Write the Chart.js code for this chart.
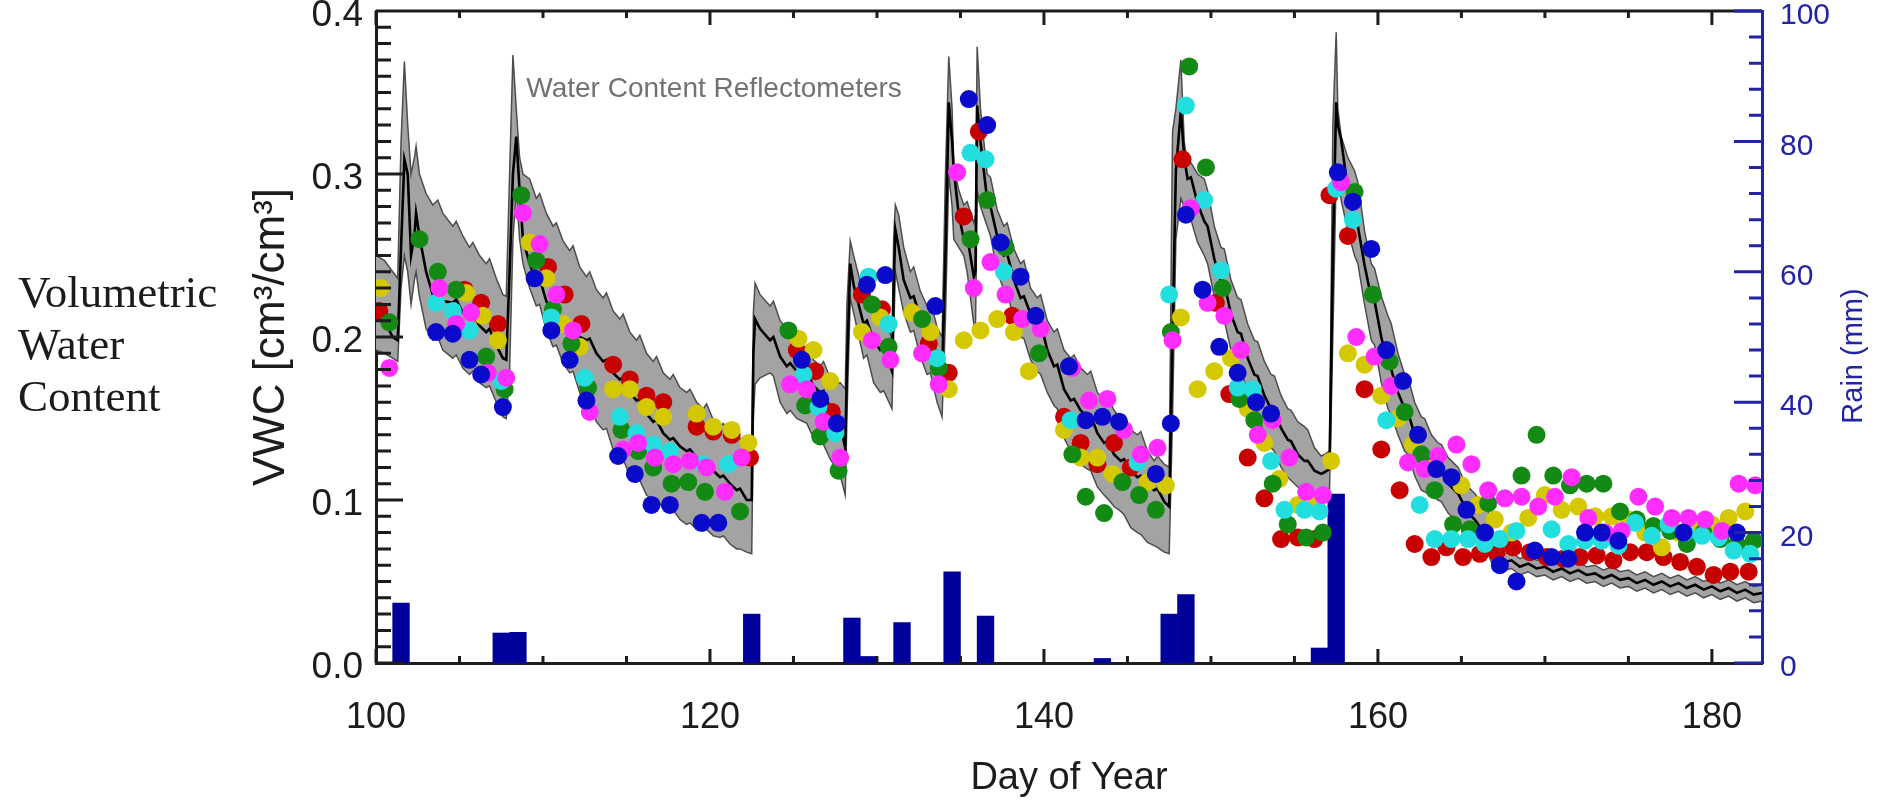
<!DOCTYPE html>
<html>
<head>
<meta charset="utf-8">
<script src="https://cdn.jsdelivr.net/npm/chart.js@4.4.1/dist/chart.umd.min.js"></script>
<style>
  html, body { margin: 0; padding: 0; background: #fff; }
  #wrap { position: relative; width: 1878px; height: 801px; }
  #wrap canvas { position: absolute; left: 0; top: 0; }
  #side {
    position: absolute; left: 18px; top: 266px;
    font-family: 'Liberation Serif', 'Times New Roman', serif;
    font-size: 45px; line-height: 52px; color: #1b1b1b;
  }
</style>
</head>
<body>
<div id="wrap">
  <canvas id="vwcChart" width="1878" height="801"></canvas>
  <div id="side">Volumetric<br>Water<br>Content</div>
</div>
<script>
// Envelope (min / mean / max) of the reflectometers
const bandDays = [
  100.0, 100.5, 101.0, 101.3, 101.5, 101.7, 101.9, 102.1, 102.3, 102.4,
  102.6, 103.0, 103.4, 103.7, 104.0, 104.6, 104.8, 105.2, 105.6, 105.8,
  106.2, 106.6, 106.8, 107.2, 107.6, 107.8, 108.0, 108.2, 108.4, 108.6,
  108.8, 109.2, 109.6, 109.8, 110.2, 110.6, 110.8, 111.2, 111.6, 111.8,
  112.2, 112.6, 112.8, 113.2, 113.6, 113.8, 114.2, 114.6, 114.8, 115.2,
  115.6, 115.8, 116.2, 116.6, 116.8, 117.2, 117.6, 117.8, 118.2, 118.6,
  118.8, 119.2, 119.6, 119.8, 120.2, 120.6, 120.8, 121.2, 121.6, 121.8,
  122.2, 122.5, 122.6, 122.7, 123.0, 123.6, 123.8, 124.2, 124.6, 124.8,
  125.2, 125.6, 125.8, 126.2, 126.6, 126.8, 127.2, 127.6, 127.8, 128.1,
  128.2, 128.4, 128.6, 129.2, 129.4, 129.8, 130.2, 130.4, 130.9, 131.0,
  131.1, 131.3, 131.6, 132.0, 132.2, 132.6, 133.0, 133.2, 133.6, 133.9,
  134.1, 134.3, 134.5, 134.6, 134.9, 135.2, 135.4, 135.8, 135.9, 136.0,
  136.2, 136.6, 136.8, 137.2, 137.6, 137.8, 138.2, 138.6, 138.8, 139.2,
  139.6, 139.8, 140.2, 140.6, 140.8, 141.2, 141.6, 141.8, 142.2, 142.6,
  142.8, 143.2, 143.6, 143.8, 144.2, 144.6, 144.8, 145.2, 145.6, 145.8,
  146.2, 146.6, 146.8, 147.2, 147.5, 147.7, 147.9, 148.2, 148.4, 148.6,
  148.8, 149.2, 149.6, 149.8, 150.2, 150.6, 150.8, 151.2, 151.6, 151.8,
  152.2, 152.6, 152.8, 153.2, 153.6, 153.8, 154.2, 154.6, 154.8, 155.2,
  155.6, 155.8, 156.2, 156.6, 156.8, 157.1, 157.3, 157.5, 157.6, 157.8,
  158.2, 158.6, 158.8, 159.2, 159.6, 159.8, 160.2, 160.6, 160.8, 161.2,
  161.6, 161.8, 162.2, 162.6, 162.8, 163.2, 163.6, 163.8, 164.2, 164.6,
  164.8, 165.2, 165.6, 165.8, 166.2, 166.6, 166.8, 167.2, 167.6, 168.0,
  168.5, 169.0, 169.5, 170.0, 170.5, 171.0, 171.5, 172.0, 172.5, 173.0,
  173.5, 174.0, 174.5, 175.0, 175.5, 176.0, 176.5, 177.0, 177.5, 178.0,
  178.5, 179.0, 179.5, 180.0, 180.5, 181.0, 181.5, 182.0, 182.5, 183.0
];
const vwcMean = [
  0.213, 0.210, 0.200, 0.198, 0.255, 0.309, 0.300, 0.250, 0.262, 0.276,
  0.262, 0.240, 0.226, 0.228, 0.222, 0.221, 0.223, 0.215, 0.212, 0.214,
  0.207, 0.203, 0.205, 0.195, 0.187, 0.186, 0.240, 0.300, 0.323, 0.290,
  0.260, 0.245, 0.234, 0.236, 0.222, 0.213, 0.215, 0.207, 0.203, 0.205,
  0.200, 0.198, 0.199, 0.190, 0.185, 0.186, 0.178, 0.174, 0.175, 0.166,
  0.161, 0.162, 0.153, 0.148, 0.149, 0.141, 0.137, 0.138, 0.133, 0.130,
  0.131, 0.126, 0.123, 0.124, 0.118, 0.114, 0.115, 0.110, 0.106, 0.107,
  0.100, 0.100, 0.190, 0.211, 0.205, 0.198, 0.200, 0.188, 0.182, 0.184,
  0.179, 0.177, 0.178, 0.170, 0.166, 0.167, 0.156, 0.148, 0.146, 0.132,
  0.180, 0.245, 0.232, 0.208, 0.210, 0.198, 0.192, 0.193, 0.179, 0.230,
  0.266, 0.255, 0.235, 0.224, 0.225, 0.212, 0.203, 0.204, 0.188, 0.177,
  0.250, 0.344, 0.320, 0.302, 0.275, 0.260, 0.262, 0.237, 0.240, 0.342,
  0.320, 0.284, 0.280, 0.262, 0.250, 0.251, 0.235, 0.224, 0.225, 0.214,
  0.208, 0.209, 0.192, 0.182, 0.183, 0.168, 0.161, 0.162, 0.155, 0.151,
  0.152, 0.141, 0.135, 0.136, 0.128, 0.124, 0.125, 0.118, 0.114, 0.115,
  0.109, 0.106, 0.107, 0.099, 0.096, 0.200, 0.302, 0.339, 0.310, 0.297,
  0.298, 0.282, 0.271, 0.268, 0.248, 0.234, 0.233, 0.214, 0.203, 0.202,
  0.187, 0.177, 0.176, 0.164, 0.156, 0.155, 0.144, 0.137, 0.136, 0.128,
  0.124, 0.124, 0.118, 0.116, 0.117, 0.119, 0.250, 0.344, 0.330, 0.321,
  0.290, 0.271, 0.268, 0.244, 0.224, 0.222, 0.200, 0.182, 0.180, 0.166,
  0.156, 0.154, 0.140, 0.130, 0.129, 0.123, 0.119, 0.118, 0.110, 0.106,
  0.104, 0.096, 0.090, 0.088, 0.082, 0.077, 0.072, 0.064, 0.062, 0.063,
  0.059, 0.061, 0.058, 0.059, 0.056, 0.058, 0.055, 0.057, 0.054, 0.055,
  0.052, 0.054, 0.051, 0.052, 0.049, 0.051, 0.048, 0.050, 0.047, 0.049,
  0.046, 0.048, 0.045, 0.047, 0.044, 0.046, 0.043, 0.045, 0.042, 0.043
];
const vwcHigh = [
  0.250, 0.247, 0.240, 0.236, 0.320, 0.369, 0.330, 0.300, 0.310, 0.317,
  0.300, 0.288, 0.281, 0.284, 0.276, 0.268, 0.271, 0.262, 0.255, 0.258,
  0.250, 0.245, 0.248, 0.236, 0.226, 0.225, 0.300, 0.373, 0.340, 0.310,
  0.300, 0.297, 0.285, 0.288, 0.276, 0.268, 0.270, 0.259, 0.253, 0.256,
  0.243, 0.237, 0.240, 0.229, 0.224, 0.227, 0.216, 0.211, 0.214, 0.203,
  0.198, 0.201, 0.190, 0.185, 0.188, 0.178, 0.174, 0.177, 0.169, 0.166,
  0.168, 0.160, 0.156, 0.159, 0.149, 0.145, 0.147, 0.140, 0.136, 0.138,
  0.134, 0.133, 0.215, 0.233, 0.226, 0.219, 0.222, 0.210, 0.205, 0.208,
  0.196, 0.192, 0.195, 0.186, 0.182, 0.185, 0.175, 0.171, 0.172, 0.168,
  0.220, 0.259, 0.250, 0.226, 0.229, 0.218, 0.213, 0.216, 0.198, 0.260,
  0.281, 0.275, 0.255, 0.240, 0.243, 0.228, 0.219, 0.222, 0.206, 0.200,
  0.300, 0.372, 0.340, 0.305, 0.290, 0.281, 0.283, 0.270, 0.275, 0.378,
  0.340, 0.300, 0.298, 0.278, 0.268, 0.270, 0.254, 0.245, 0.247, 0.230,
  0.224, 0.226, 0.210, 0.203, 0.205, 0.192, 0.187, 0.189, 0.181, 0.177,
  0.179, 0.166, 0.161, 0.163, 0.155, 0.150, 0.152, 0.143, 0.140, 0.142,
  0.130, 0.124, 0.127, 0.122, 0.120, 0.326, 0.340, 0.370, 0.320, 0.305,
  0.307, 0.300, 0.297, 0.290, 0.268, 0.255, 0.254, 0.235, 0.224, 0.223,
  0.208, 0.198, 0.197, 0.185, 0.177, 0.176, 0.164, 0.156, 0.155, 0.148,
  0.145, 0.143, 0.132, 0.127, 0.128, 0.130, 0.330, 0.387, 0.340, 0.323,
  0.310, 0.302, 0.295, 0.265, 0.245, 0.242, 0.225, 0.213, 0.208, 0.190,
  0.177, 0.175, 0.160, 0.151, 0.150, 0.140, 0.135, 0.134, 0.126, 0.122,
  0.120, 0.111, 0.106, 0.104, 0.098, 0.093, 0.085, 0.069, 0.067, 0.068,
  0.064, 0.066, 0.063, 0.064, 0.061, 0.063, 0.060, 0.062, 0.059, 0.060,
  0.057, 0.059, 0.056, 0.057, 0.054, 0.056, 0.053, 0.055, 0.052, 0.054,
  0.051, 0.053, 0.050, 0.052, 0.049, 0.051, 0.048, 0.050, 0.047, 0.048
];
const vwcLow = [
  0.192, 0.190, 0.187, 0.185, 0.230, 0.250, 0.240, 0.220, 0.235, 0.240,
  0.225, 0.205, 0.198, 0.200, 0.192, 0.187, 0.189, 0.181, 0.177, 0.179,
  0.172, 0.169, 0.170, 0.160, 0.151, 0.150, 0.180, 0.260, 0.290, 0.260,
  0.245, 0.230, 0.219, 0.220, 0.204, 0.194, 0.195, 0.184, 0.178, 0.179,
  0.166, 0.158, 0.159, 0.148, 0.143, 0.144, 0.131, 0.124, 0.125, 0.115,
  0.111, 0.112, 0.103, 0.100, 0.101, 0.095, 0.093, 0.094, 0.088, 0.085,
  0.086, 0.082, 0.081, 0.082, 0.078, 0.077, 0.078, 0.073, 0.070, 0.070,
  0.068, 0.067, 0.150, 0.171, 0.175, 0.178, 0.176, 0.160, 0.153, 0.155,
  0.150, 0.148, 0.147, 0.138, 0.135, 0.134, 0.125, 0.119, 0.115, 0.103,
  0.150, 0.224, 0.215, 0.187, 0.189, 0.172, 0.166, 0.167, 0.156, 0.200,
  0.240, 0.230, 0.215, 0.203, 0.204, 0.188, 0.177, 0.178, 0.160, 0.151,
  0.210, 0.300, 0.280, 0.260, 0.255, 0.250, 0.240, 0.208, 0.205, 0.290,
  0.280, 0.268, 0.262, 0.240, 0.229, 0.228, 0.210, 0.200, 0.199, 0.186,
  0.179, 0.177, 0.166, 0.158, 0.156, 0.138, 0.130, 0.128, 0.122, 0.119,
  0.118, 0.108, 0.103, 0.101, 0.096, 0.093, 0.091, 0.083, 0.080, 0.079,
  0.074, 0.072, 0.071, 0.068, 0.067, 0.150, 0.260, 0.285, 0.280, 0.274,
  0.272, 0.258, 0.250, 0.245, 0.225, 0.213, 0.210, 0.192, 0.182, 0.180,
  0.165, 0.156, 0.154, 0.140, 0.132, 0.130, 0.120, 0.114, 0.112, 0.108,
  0.106, 0.105, 0.104, 0.103, 0.104, 0.105, 0.200, 0.300, 0.295, 0.284,
  0.265, 0.250, 0.245, 0.220, 0.198, 0.195, 0.172, 0.156, 0.152, 0.140,
  0.130, 0.128, 0.115, 0.106, 0.105, 0.103, 0.100, 0.099, 0.092, 0.088,
  0.086, 0.080, 0.077, 0.075, 0.070, 0.067, 0.062, 0.059, 0.057, 0.058,
  0.054, 0.056, 0.053, 0.054, 0.051, 0.053, 0.050, 0.052, 0.049, 0.050,
  0.047, 0.049, 0.046, 0.047, 0.044, 0.046, 0.043, 0.045, 0.042, 0.044,
  0.041, 0.043, 0.040, 0.042, 0.039, 0.041, 0.038, 0.040, 0.037, 0.038
];

// Daily rain totals (mm)
const rainDays = [101, 107, 108, 122, 128, 129, 131, 134, 136, 143, 147, 148, 156, 157];
const rainMm   = [9.2, 4.6, 4.7, 7.5, 6.9, 1.0, 6.2, 14.0, 7.2, 0.7, 7.5, 10.5, 2.3, 25.9];

// Individual sensors
const redDays = [
  100.2, 105.3, 106.3, 107.3, 110.3, 111.3, 112.3, 114.2, 115.2, 116.2,
  117.2, 119.2, 120.2, 121.3, 122.4, 125.2, 126.3, 127.3, 129.1, 130.3,
  133.1, 134.3, 135.2, 136.1, 138.1, 141.2, 142.2, 143.2, 144.2, 145.2,
  148.3, 150.3, 151.1, 152.2, 153.2, 154.2, 155.2, 156.2, 157.1, 158.2,
  159.2, 160.2, 161.3, 162.2, 163.2, 164.1, 165.1, 166.1, 167.1, 168.1,
  169.1, 170.1, 171.1, 172.1, 173.1, 174.1, 175.1, 176.1, 177.1, 178.1,
  179.1, 180.1, 181.1, 182.2
];
const redVwc = [
  0.216, 0.229, 0.221, 0.208, 0.243, 0.226, 0.208, 0.183, 0.174, 0.164,
  0.160, 0.145, 0.142, 0.140, 0.126, 0.192, 0.179, 0.154, 0.226, 0.217,
  0.196, 0.178, 0.274, 0.326, 0.213, 0.151, 0.135, 0.122, 0.135, 0.120,
  0.309, 0.221, 0.165, 0.126, 0.101, 0.076, 0.077, 0.076, 0.287, 0.262,
  0.168, 0.131, 0.106, 0.073, 0.065, 0.071, 0.065, 0.067, 0.068, 0.071,
  0.068, 0.065, 0.064, 0.065, 0.066, 0.063, 0.068, 0.068, 0.065, 0.062,
  0.059, 0.054, 0.056, 0.056
];
const yellowDays = [
  100.3, 105.4, 106.4, 107.3, 109.2, 110.2, 111.2, 112.2, 114.2, 115.2,
  116.2, 117.2, 119.2, 120.2, 121.3, 122.3, 125.3, 126.2, 127.2, 129.1,
  130.2, 132.1, 133.2, 134.3, 135.2, 136.2, 137.2, 138.2, 139.1, 141.2,
  142.2, 143.2, 144.1, 146.2, 147.3, 148.2, 149.2, 150.2, 151.2, 152.2,
  153.2, 154.1, 155.2, 156.3, 157.2, 158.2, 159.2, 160.2, 161.2, 162.1,
  163.3, 165.0, 166.0, 167.0, 168.0, 169.0, 170.0, 171.0, 172.0, 173.0,
  174.0, 175.0, 176.0, 177.0, 178.0, 179.0, 180.0, 181.0, 182.0
];
const yellowVwc = [
  0.230, 0.227, 0.213, 0.198, 0.258, 0.236, 0.208, 0.194, 0.168, 0.168,
  0.157, 0.151, 0.153, 0.145, 0.143, 0.135, 0.199, 0.192, 0.173, 0.203,
  0.212, 0.215, 0.203, 0.168, 0.198, 0.204, 0.211, 0.203, 0.179, 0.143,
  0.126, 0.126, 0.116, 0.111, 0.109, 0.212, 0.168, 0.179, 0.187, 0.156,
  0.135, 0.113, 0.097, 0.098, 0.124, 0.190, 0.183, 0.164, 0.150, 0.134,
  0.120, 0.109, 0.097, 0.088, 0.080, 0.089, 0.103, 0.094, 0.096, 0.090,
  0.090, 0.088, 0.080, 0.071, 0.080, 0.081, 0.085, 0.089, 0.093
];
const greenDays = [
  100.8, 102.6, 103.7, 104.8, 106.6, 107.7, 108.7, 109.6, 110.6, 111.7,
  112.7, 114.7, 115.7, 116.6, 117.7, 118.7, 119.7, 121.8, 124.7, 125.7,
  126.6, 127.7, 129.7, 130.7, 132.7, 133.7, 135.6, 136.6, 137.7, 139.7,
  141.7, 142.5, 143.6, 144.7, 145.7, 146.7, 147.6, 148.7, 149.7, 150.7,
  151.7, 152.6, 153.7, 154.6, 155.7, 156.7, 158.6, 159.7, 160.7, 161.6,
  162.6, 163.4, 164.5, 165.5, 166.6, 168.6, 169.5, 170.5, 171.5, 172.5,
  173.5, 174.5, 175.5, 176.5, 177.5, 178.5, 179.5, 180.5, 181.5, 182.5
];
const greenVwc = [
  0.209, 0.260, 0.240, 0.229, 0.188, 0.168, 0.287, 0.247, 0.217, 0.196,
  0.169, 0.143, 0.130, 0.120, 0.110, 0.111, 0.105, 0.093, 0.204, 0.158,
  0.139, 0.118, 0.220, 0.194, 0.211, 0.181, 0.260, 0.284, 0.255, 0.190,
  0.128, 0.102, 0.092, 0.111, 0.103, 0.094, 0.203, 0.366, 0.304, 0.230,
  0.162, 0.149, 0.110, 0.085, 0.077, 0.080, 0.289, 0.226, 0.185, 0.154,
  0.128, 0.106, 0.085, 0.082, 0.098, 0.115, 0.140, 0.115, 0.109, 0.110,
  0.110, 0.093, 0.088, 0.084, 0.081, 0.073, 0.080, 0.076, 0.073, 0.075
];
const cyanDays = [
  103.6, 104.6, 105.6, 107.5, 110.5, 112.5, 114.6, 115.6, 116.6, 117.6,
  119.6, 121.1, 125.6, 126.5, 127.5, 129.5, 130.7, 133.6, 135.6, 136.5,
  137.6, 141.6, 145.6, 147.5, 148.5, 149.6, 150.6, 151.6, 152.5, 153.6,
  154.4, 155.6, 156.5, 157.5, 158.5, 160.5, 162.5, 163.4, 164.4, 165.4,
  166.4, 167.3, 168.3, 170.4, 171.4, 172.4, 173.4, 174.4, 175.4, 176.4,
  177.4, 178.4, 179.4, 180.4, 181.3, 182.3
];
const cyanVwc = [
  0.221, 0.216, 0.204, 0.173, 0.212, 0.175, 0.151, 0.141, 0.134, 0.130,
  0.122, 0.122, 0.177, 0.157, 0.141, 0.237, 0.208, 0.187, 0.313, 0.309,
  0.240, 0.149, 0.123, 0.226, 0.342, 0.284, 0.241, 0.169, 0.168, 0.124,
  0.094, 0.094, 0.093, 0.291, 0.272, 0.149, 0.097, 0.076, 0.076, 0.076,
  0.073, 0.076, 0.081, 0.082, 0.073, 0.075, 0.075, 0.072, 0.086, 0.078,
  0.085, 0.080, 0.078, 0.077, 0.069, 0.067
];
const magentaDays = [
  100.8, 103.8, 104.8, 105.7, 106.7, 107.8, 108.8, 109.8, 110.8, 111.8,
  112.8, 114.8, 115.7, 116.7, 117.8, 118.8, 119.8, 120.9, 121.9, 124.8,
  125.8, 126.8, 127.8, 129.7, 130.8, 132.7, 133.7, 134.8, 135.8, 136.8,
  137.7, 138.7, 139.8, 141.7, 142.7, 143.8, 144.8, 145.8, 146.8, 147.7,
  148.8, 149.8, 150.8, 151.8, 152.8, 153.7, 154.7, 155.7, 156.7, 157.8,
  158.7, 159.8, 160.8, 161.8, 162.8, 163.6, 164.7, 165.6, 166.6, 167.6,
  168.6, 169.6, 170.6, 171.6, 172.6, 173.6, 174.6, 175.6, 176.6, 177.6,
  178.6, 179.6, 180.6, 181.6, 182.6
];
const magentaVwc = [
  0.181, 0.230, 0.208, 0.215, 0.178, 0.175, 0.276, 0.257, 0.226, 0.204,
  0.154, 0.131, 0.135, 0.126, 0.122, 0.124, 0.120, 0.105, 0.126, 0.171,
  0.168, 0.148, 0.126, 0.198, 0.186, 0.190, 0.171, 0.301, 0.230, 0.246,
  0.226, 0.211, 0.205, 0.181, 0.161, 0.162, 0.143, 0.128, 0.132, 0.198,
  0.279, 0.221, 0.213, 0.192, 0.140, 0.149, 0.126, 0.105, 0.103, 0.295,
  0.200, 0.188, 0.170, 0.123, 0.119, 0.127, 0.134, 0.122, 0.106, 0.101,
  0.102, 0.096, 0.102, 0.114, 0.089, 0.080, 0.081, 0.102, 0.096, 0.089,
  0.089, 0.088, 0.081, 0.110, 0.109
];
const blueDays = [
  103.6, 104.6, 105.6, 106.3, 107.6, 109.5, 110.5, 111.6, 112.6, 114.5,
  115.5, 116.5, 117.6, 119.5, 120.5, 125.5, 126.6, 127.6, 129.4, 130.5,
  133.5, 135.5, 136.6, 137.4, 138.6, 139.5, 141.5, 142.5, 143.5, 144.5,
  146.7, 147.6, 148.5, 149.5, 150.5, 151.6, 152.7, 153.6, 157.6, 158.5,
  159.6, 160.5, 161.5, 162.4, 163.5, 164.4, 165.3, 166.4, 167.3, 168.3,
  169.4, 170.4, 171.4, 172.4, 173.4, 174.4, 178.3, 181.5
];
const blueVwc = [
  0.203, 0.202, 0.186, 0.177, 0.157, 0.236, 0.204, 0.186, 0.161, 0.127,
  0.116, 0.097, 0.097, 0.086, 0.086, 0.186, 0.162, 0.147, 0.232, 0.238,
  0.219, 0.346, 0.330, 0.258, 0.237, 0.213, 0.182, 0.149, 0.151, 0.148,
  0.116, 0.147, 0.275, 0.229, 0.194, 0.178, 0.160, 0.153, 0.301, 0.283,
  0.254, 0.192, 0.173, 0.140, 0.119, 0.114, 0.094, 0.080, 0.060, 0.050,
  0.069, 0.065, 0.064, 0.080, 0.080, 0.075, 0.080, 0.080
];

// Axis tick labels
const dayTicks = [100, 120, 140, 160, 180];
const vwcTicks = [0, 0.1, 0.2, 0.3, 0.4];
const rainTicks = [0, 20, 40, 60, 80, 100];

const FONT = "'Liberation Sans', Arial, Helvetica, sans-serif";
const INK = '#1c1c1c';
const RAIN_BLUE = '#2323a6';

const pts = (xs, ys) => xs.map((x, i) => ({ x: x, y: ys[i] }));

function sensor(label, days, vals, color, order) {
  return {
    type: 'scatter',
    label: label,
    data: pts(days, vals),
    backgroundColor: color,
    borderWidth: 0,
    pointRadius: 9,
    order: order
  };
}

// keep the plot box where the figure has it: no automatic label padding
function noPad(s) {
  s.paddingTop = 0; s.paddingBottom = 0;
  s.paddingLeft = 0; s.paddingRight = 0;
}

// Inward IDL-style tick marks, the top frame line and the in-plot labels
const frameDecor = {
  id: 'frameDecor',
  afterDatasetsDraw(chart) {
    const { ctx, chartArea: a, scales } = chart;
    const x = scales.x, y = scales.y, y2 = scales.y2;
    ctx.save();
    ctx.lineWidth = 3;
    ctx.strokeStyle = INK;
    ctx.beginPath();
    ctx.moveTo(a.left, a.top);
    ctx.lineTo(a.right, a.top);
    for (let d = 100; d <= 183; d += 5) {
      const px = x.getPixelForValue(d);
      const len = (d % 20 === 0) ? 14 : 7;
      ctx.moveTo(px, a.bottom); ctx.lineTo(px, a.bottom - len);
      ctx.moveTo(px, a.top); ctx.lineTo(px, a.top + len);
    }
    for (let i = 0; i <= 40; i++) {
      const py = y.getPixelForValue(i / 100);
      const len = (i % 10 === 0) ? 27 : 15;
      ctx.moveTo(a.left, py); ctx.lineTo(a.left + len, py);
    }
    ctx.stroke();

    ctx.strokeStyle = RAIN_BLUE;
    ctx.beginPath();
    for (let r = 0; r <= 100; r += 4) {
      const py = y2.getPixelForValue(r);
      const len = (r % 20 === 0) ? 28 : 13;
      ctx.moveTo(a.right, py); ctx.lineTo(a.right - len, py);
    }
    ctx.stroke();

    // annotation
    ctx.fillStyle = '#727272';
    ctx.font = '28px ' + FONT;
    ctx.textBaseline = 'middle';
    ctx.textAlign = 'left';
    ctx.fillText('Water Content Reflectometers', x.getPixelForValue(109.0), y.getPixelForValue(0.352));

    // right axis title, reading bottom to top
    ctx.translate(1854, 356);
    ctx.rotate(-Math.PI / 2);
    ctx.textAlign = 'center';
    ctx.fillStyle = RAIN_BLUE;
    ctx.font = '29px ' + FONT;
    ctx.fillText('Rain (mm)', 0, 0);
    ctx.restore();
  }
};

Chart.defaults.font.family = FONT;
Chart.defaults.color = INK;

new Chart(document.getElementById('vwcChart'), {
  type: 'line',
  data: {
    datasets: [
      sensor('Red', redDays, redVwc, '#c80000', 6),
      { // envelope top, filled down to the next dataset
        type: 'line', label: 'max', data: pts(bandDays, vwcHigh),
        borderColor: '#4d4d4d', borderWidth: 1.5, backgroundColor: '#a3a3a3',
        fill: '+1', pointRadius: 0, tension: 0, order: 9
      },
      {
        type: 'line', label: 'min', data: pts(bandDays, vwcLow),
        borderColor: '#4d4d4d', borderWidth: 1.5, fill: false,
        pointRadius: 0, tension: 0, order: 8
      },
      {
        type: 'line', label: 'mean', data: pts(bandDays, vwcMean),
        borderColor: '#000', borderWidth: 2.6, fill: false,
        pointRadius: 0, tension: 0, order: 7
      },
      sensor('Yellow', yellowDays, yellowVwc, '#d4c900', 5),
      sensor('Green', greenDays, greenVwc, '#138a13', 4),
      sensor('Cyan', cyanDays, cyanVwc, '#22dede', 3),
      sensor('Magenta', magentaDays, magentaVwc, '#ff2cff', 2),
      sensor('Blue', blueDays, blueVwc, '#0a0acb', 1),
      {
        type: 'bar', label: 'Rain', yAxisID: 'y2',
        data: rainDays.map((d, i) => ({ x: d + 0.5, y: rainMm[i] })),
        backgroundColor: '#00009a', borderWidth: 0,
        barPercentage: 1, categoryPercentage: 1, order: 10
      }
    ]
  },
  options: {
    responsive: false,
    animation: false,
    devicePixelRatio: 1,
    layout: { padding: { left: 245, top: 11, right: 0, bottom: 0 } },
    plugins: { legend: { display: false }, tooltip: { enabled: false } },
    scales: {
      x: {
        type: 'linear', position: 'bottom', min: 100, max: 183, offset: false,
        afterBuildTicks: s => { s.ticks = dayTicks.map(v => ({ value: v })); },
        afterFit: s => { s.height = 138; noPad(s); },
        grid: { display: false, drawTicks: false, offset: false },
        border: { display: true, color: INK, width: 3 },
        ticks: { color: INK, font: { size: 36 }, padding: 33, maxRotation: 0 },
        title: {
          display: true, text: 'Day of Year', color: INK,
          font: { size: 38 }, padding: { top: 0, bottom: 0 }
        }
      },
      y: {
        type: 'linear', position: 'left', min: 0, max: 0.4,
        afterBuildTicks: s => { s.ticks = vwcTicks.map(v => ({ value: v })); },
        afterFit: s => { s.width = 131; noPad(s); },
        grid: { display: false, drawTicks: false },
        border: { display: true, color: INK, width: 3 },
        ticks: { color: INK, font: { size: 37 }, padding: 13, labelOffset: 5, callback: v => v.toFixed(1) },
        title: {
          display: true, text: 'VWC [cm³/cm³]', color: INK,
          font: { size: 44 }, padding: { top: 0, bottom: 0 }
        }
      },
      y2: {
        type: 'linear', position: 'right', min: 0, max: 100,
        afterBuildTicks: s => { s.ticks = rainTicks.map(v => ({ value: v })); },
        afterFit: s => { s.width = 116; noPad(s); },
        grid: { display: false, drawTicks: false },
        border: { display: true, color: RAIN_BLUE, width: 3 },
        ticks: { color: RAIN_BLUE, font: { size: 30 }, padding: 18, labelOffset: 5 }
      }
    }
  },
  plugins: [frameDecor]
});
</script>
</body>
</html>
